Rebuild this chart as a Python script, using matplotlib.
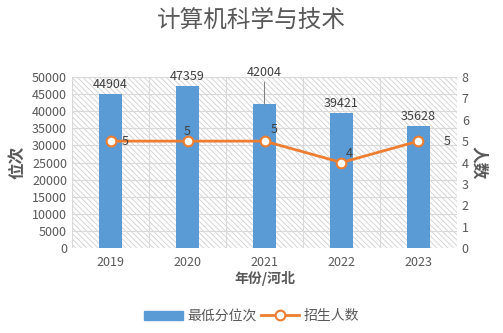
import matplotlib.pyplot as plt
from matplotlib.patches import Rectangle
from matplotlib.lines import Line2D

plt.rcParams['font.family'] = ['Noto Sans CJK SC', 'DejaVu Sans']
plt.rcParams['hatch.linewidth'] = 0.6
plt.rcParams['hatch.color'] = '#d0d0d0'

years = ['2019', '2020', '2021', '2022', '2023']
rank = [44904, 47359, 42004, 39421, 35628]
enroll = [5, 5, 5, 4, 5]

grey = '#595959'
blue = '#5b9bd5'
orange = '#ed7d31'

fig = plt.figure(figsize=(5.03, 3.33), dpi=100)
ax = fig.add_axes([72/503, 1-248/333, 385/503, 171/333])
ax2 = ax.twinx()

x = list(range(len(years)))
ax.set_xlim(-0.5, len(years)-0.5)
ax.set_ylim(0, 50000)
ax2.set_ylim(0, 8)

# hatched background
ax.add_patch(Rectangle((0, 0), 1, 1, transform=ax.transAxes, facecolor='white',
                       hatch='\\\\\\\\\\\\', edgecolor='#d0d0d0', linewidth=0, zorder=0))

for i in range(len(years)+1):
    ax.axvline(i-0.5, color='#d9d9d9', lw=0.8, zorder=1)
for v in range(5000, 50001, 5000):
    ax.axhline(v, color='#d9d9d9', lw=0.8, zorder=1)

ax.bar(x, rank, width=0.29, color=blue, zorder=2)
ax2.plot(x, enroll, color=orange, lw=2, marker='o', markersize=7,
         markerfacecolor='white', markeredgecolor=orange, markeredgewidth=1.5, zorder=3)

# bar labels
for i, v in enumerate(rank):
    if i == 2:
        ax.annotate(str(v), (i, v), xytext=(i, v + 7300), ha='center', va='bottom',
                    fontsize=9, color='#404040',
                    arrowprops=dict(arrowstyle='-', color='#7f7f7f', lw=0.7, shrinkA=0, shrinkB=0))
    else:
        ax.text(i, v + 1000, str(v), ha='center', va='bottom', fontsize=9, color='#404040')

# line labels
offsets = [(0.15, 0.0), (0.0, 0.45), (0.08, 0.55), (0.05, 0.4), (0.33, 0.0)]
for i, v in enumerate(enroll):
    dx, dy = offsets[i]
    ax2.text(i + dx, v + dy, str(v), ha='left' if dx > 0.04 else 'center', va='center',
             fontsize=9, color='#404040', zorder=4)

ax.set_xticks(x)
ax.set_xticklabels(years)
ax.set_yticks(range(0, 50001, 5000))
ax2.set_yticks(range(0, 9))
for a in (ax, ax2):
    a.tick_params(length=0, colors=grey, labelsize=9)
    for s in a.spines.values():
        s.set_visible(False)
ax.tick_params(axis='x', pad=6)

ax.set_ylabel('位次', fontsize=12, fontweight='bold', color=grey, labelpad=4)
ax2.set_ylabel('人数', fontsize=12, fontweight='bold', color=grey, rotation=270, labelpad=14)
ax.set_xlabel('年份/河北', fontsize=10, fontweight='bold', color=grey, labelpad=1)

fig.text(0.5, 0.94, '计算机科学与技术', ha='center', va='center', fontsize=17, color=grey)

handles = [Rectangle((0, 0), 1, 1, color=blue),
           Line2D([0], [0], color=orange, lw=2, marker='o', markersize=7,
                  markerfacecolor='white', markeredgecolor=orange, markeredgewidth=1.5)]
leg = fig.legend(handles, ['最低分位次', '招生人数'], loc='center', bbox_to_anchor=(0.5, 0.05),
                 ncol=2, frameon=False, fontsize=10, handlelength=2.8, columnspacing=0.3,
                 handletextpad=0.3)
for t in leg.get_texts():
    t.set_color(grey)

fig.savefig('out.png', dpi=100)
